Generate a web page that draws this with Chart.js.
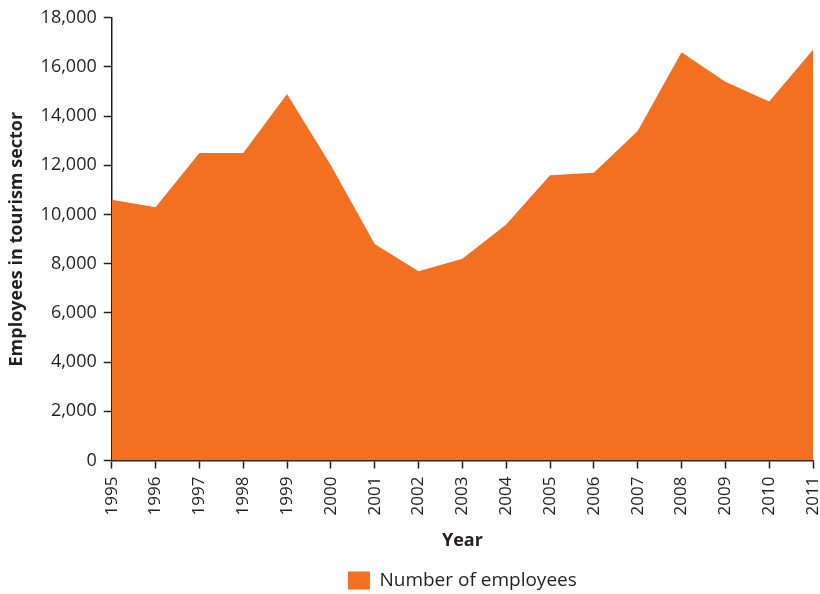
<!DOCTYPE html>
<html>
<head>
<meta charset="utf-8">
<script src="https://cdn.jsdelivr.net/npm/chart.js@4"></script>
<style>
  html, body { margin: 0; padding: 0; background: #fff; }
  #wrap { width: 820px; height: 594px; }
</style>
</head>
<body>
<div id="wrap"><canvas id="tourism"></canvas></div>
<script>
// employees in tourism, one value per year
const years = ['1995', '1996', '1997', '1998', '1999', '2000', '2001', '2002', '2003',
  '2004', '2005', '2006', '2007', '2008', '2009', '2010', '2011'];
const employees = [10600, 10300, 12500, 12500, 14900, 12000, 8800, 7700, 8200,
  9600, 11600, 11700, 13400, 16600, 15400, 14600, 16700];
const yTicks = [0, 2000, 4000, 6000, 8000, 10000, 12000, 14000, 16000, 18000];

const ORANGE = '#f37021';
const INK = '#231f20';
const FONT = '"Open Sans", "Noto Sans", sans-serif';

new Chart(document.getElementById('tourism'), {
  type: 'line',
  data: {
    labels: years,
    datasets: [{
      label: 'Number of employees',
      data: employees,
      backgroundColor: ORANGE,
      borderColor: ORANGE,
      borderWidth: 0,
      pointRadius: 0,
      tension: 0,
      fill: 'origin'
    }]
  },
  options: {
    responsive: true,
    maintainAspectRatio: false,
    animation: false,
    layout: { padding: { top: 8, right: 0, left: 6, bottom: -6 } },
    plugins: {
      tooltip: { enabled: false },
      legend: {
        position: 'bottom',
        fullSize: false,
        labels: {
          boxWidth: 22,
          boxHeight: 18,
          padding: 0,
          color: INK,
          font: { family: FONT, size: 19 }
        }
      }
    },
    scales: {
      x: {
        offset: false,
        // rotated year labels only need a little room past the last tick
        afterFit: axis => {
          axis.paddingRight = 7;
          axis.paddingLeft = 0;
        },
        grid: { drawOnChartArea: false, tickLength: 8, color: INK, tickWidth: 1.5 },
        border: { color: INK, width: 1.5 },
        ticks: {
          color: INK,
          minRotation: 90,
          maxRotation: 90,
          autoSkip: false,
          padding: 8,
          font: { family: FONT, size: 17 }
        },
        title: {
          display: true,
          text: 'Year',
          color: INK,
          padding: { top: 7, bottom: 19 },
          font: { family: FONT, size: 18, weight: 'bold' }
        }
      },
      y: {
        min: 0,
        max: 18000,
        afterBuildTicks: axis => {
          axis.ticks = yTicks.map(v => ({ value: v }));
        },
        grid: { drawOnChartArea: false, tickLength: 8, color: INK, tickWidth: 1.5 },
        border: { color: INK, width: 1.5 },
        ticks: {
          color: INK,
          padding: 7,
          font: { family: FONT, size: 18 },
          callback: v => v.toLocaleString('en-US')
        },
        title: {
          display: true,
          text: 'Employees in tourism sector',
          color: INK,
          padding: { top: 0, bottom: 6 },
          font: { family: FONT, size: 18, weight: 'bold' }
        }
      }
    }
  }
});
</script>
</body>
</html>
